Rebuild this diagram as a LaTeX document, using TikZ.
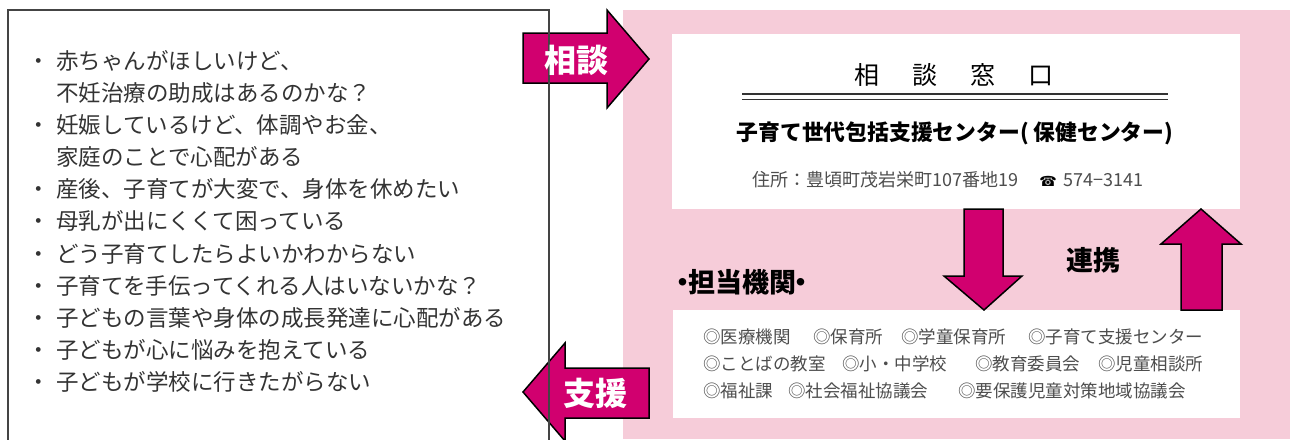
\documentclass[tikz,border=0pt]{standalone}
\usepackage{fontspec}
\setmainfont{Noto Sans CJK JP}
\newfontfamily\symfont{DejaVu Sans}
\definecolor{pinkbg}{HTML}{F6CCD9}
\definecolor{mag}{HTML}{D1006F}
\definecolor{listgray}{HTML}{333333}
\definecolor{orggray}{HTML}{4D4D4D}
\definecolor{boxline}{HTML}{444444}
\newcommand{\fs}[1]{\fontsize{#1pt}{#1pt}\selectfont}
\newcommand{\bul}{\llap{・\hspace{6pt}}}
\begin{document}
\begin{tikzpicture}[x=1pt,y=-1pt,
  listtext/.style={anchor=west, inner sep=0pt, text=listgray, font=\fs{22.5}},
  orgtext/.style={anchor=west, inner sep=0pt, text=orggray, font=\fs{17.5}},
  bigarrow/.style={fill=mag, draw=black, line width=1.5pt, line join=miter},
  arrowlabel/.style={inner sep=0pt, text=white, font=\fs{32}\bfseries},
  whitebox/.style={fill=white, draw=none, inner sep=0pt, anchor=north west},
  headtext/.style={inner sep=0pt, text=black, font=\fs{27}\bfseries}
]
\useasboundingbox (0,0) rectangle (1290,439);
% pink panel
\fill[pinkbg] (623,10) rectangle (1290,439);
\node[whitebox, minimum width=568pt, minimum height=175pt] (top) at (672,34) {};
\node[whitebox, minimum width=567pt, minimum height=108pt] (bot) at (673,310) {};

% top box texts
\node[inner sep=0pt, font=\fs{25}] (title) at (954,75) {相\hspace{33pt}談\hspace{33pt}窓\hspace{33pt}口};
\coordinate (dl1) at (742,94);
\coordinate (dr1) at (1168,94);
\coordinate (dl2) at (742,99.5);
\coordinate (dr2) at (1168,99.5);
\draw[line width=1.4pt, listgray] (dl1) -- (dr1);
\draw[line width=1.4pt, listgray] (dl2) -- (dr2);
\node[inner sep=0pt, font=\fs{21.8}\bfseries] (sub) at (955,133) {子育て世代包括支援センター( 保健センター)};
\node[inner sep=0pt, anchor=west, text=orggray, font=\fs{18}] (addr) at (752,180) {住所：豊頃町茂岩栄町107番地19};
\node[inner sep=0pt, text=black, font=\symfont\fs{14}] (tel) at (1048,181) {☎};
\node[inner sep=0pt, anchor=west, text=orggray, font=\fs{18}] (telno) at (1063,180) {574−3141};

% labels on pink
\node[headtext] (tanto) at (742,282) {\makebox[10pt][c]{・}担当機関\makebox[10pt][c]{・}};
\node[headtext] (renkei) at (1093,260) {連携};

% organisations
\node[orgtext] (o1) at (703,337) {◎医療機関};
\node[orgtext] (o2) at (813,337) {◎保育所};
\node[orgtext] (o3) at (901,337) {◎学童保育所};
\node[orgtext] (o4) at (1028,337) {◎子育て支援センター};
\node[orgtext] (o5) at (703,364) {◎ことばの教室};
\node[orgtext] (o6) at (842,364) {◎小・中学校};
\node[orgtext] (o7) at (975,364) {◎教育委員会};
\node[orgtext] (o8) at (1098,364) {◎児童相談所};
\node[orgtext] (o9) at (703,391) {◎福祉課};
\node[orgtext] (o10) at (788,391) {◎社会福祉協議会};
\node[orgtext] (o11) at (958,391) {◎要保護児童対策地域協議会};

% liaison arrows
\draw[bigarrow] (964,209) -- (1003,209) -- (1003,276) -- (1022,276) -- (984,310) -- (944,276) -- (964,276) -- cycle;
\draw[bigarrow] (1181,310) -- (1181,244) -- (1161,244) -- (1201,209) -- (1241,244) -- (1222,244) -- (1222,310) -- cycle;

% consult / support arrows
\draw[bigarrow] (523,33) -- (607,33) -- (607,10) -- (649,59) -- (607,108) -- (607,83) -- (523,83) -- cycle;
\draw[bigarrow] (649,368) -- (649,418) -- (565,418) -- (565,441) -- (523,392) -- (565,343) -- (565,368) -- cycle;

% left box
\coordinate (lb1) at (8,445);
\coordinate (lb2) at (8,10);
\coordinate (lb3) at (549,10);
\coordinate (lb4) at (549,445);
\draw[boxline, line width=1.3pt] (lb1) -- (lb2) -- (lb3) -- (lb4);

\node[arrowlabel] (soudan) at (576,60) {相談};
\node[arrowlabel] (shien) at (595,393) {支援};

% list
\node[listtext] (l1) at (56,61) {\bul 赤ちゃんがほしいけど、};
\node[listtext] (l2) at (56,93) {不妊治療の助成はあるのかな？};
\node[listtext] (l3) at (56,125) {\bul 妊娠しているけど、体調やお金、};
\node[listtext] (l4) at (56,157) {家庭のことで心配がある};
\node[listtext] (l5) at (56,189) {\bul 産後、子育てが大変で、身体を休めたい};
\node[listtext] (l6) at (56,221) {\bul 母乳が出にくくて困っている};
\node[listtext] (l7) at (56,254) {\bul どう子育てしたらよいかわからない};
\node[listtext] (l8) at (56,286) {\bul 子育てを手伝ってくれる人はいないかな？};
\node[listtext] (l9) at (56,318) {\bul 子どもの言葉や身体の成長発達に心配がある};
\node[listtext] (l10) at (56,350) {\bul 子どもが心に悩みを抱えている};
\node[listtext] (l11) at (56,382) {\bul 子どもが学校に行きたがらない};
\end{tikzpicture}
\end{document}
